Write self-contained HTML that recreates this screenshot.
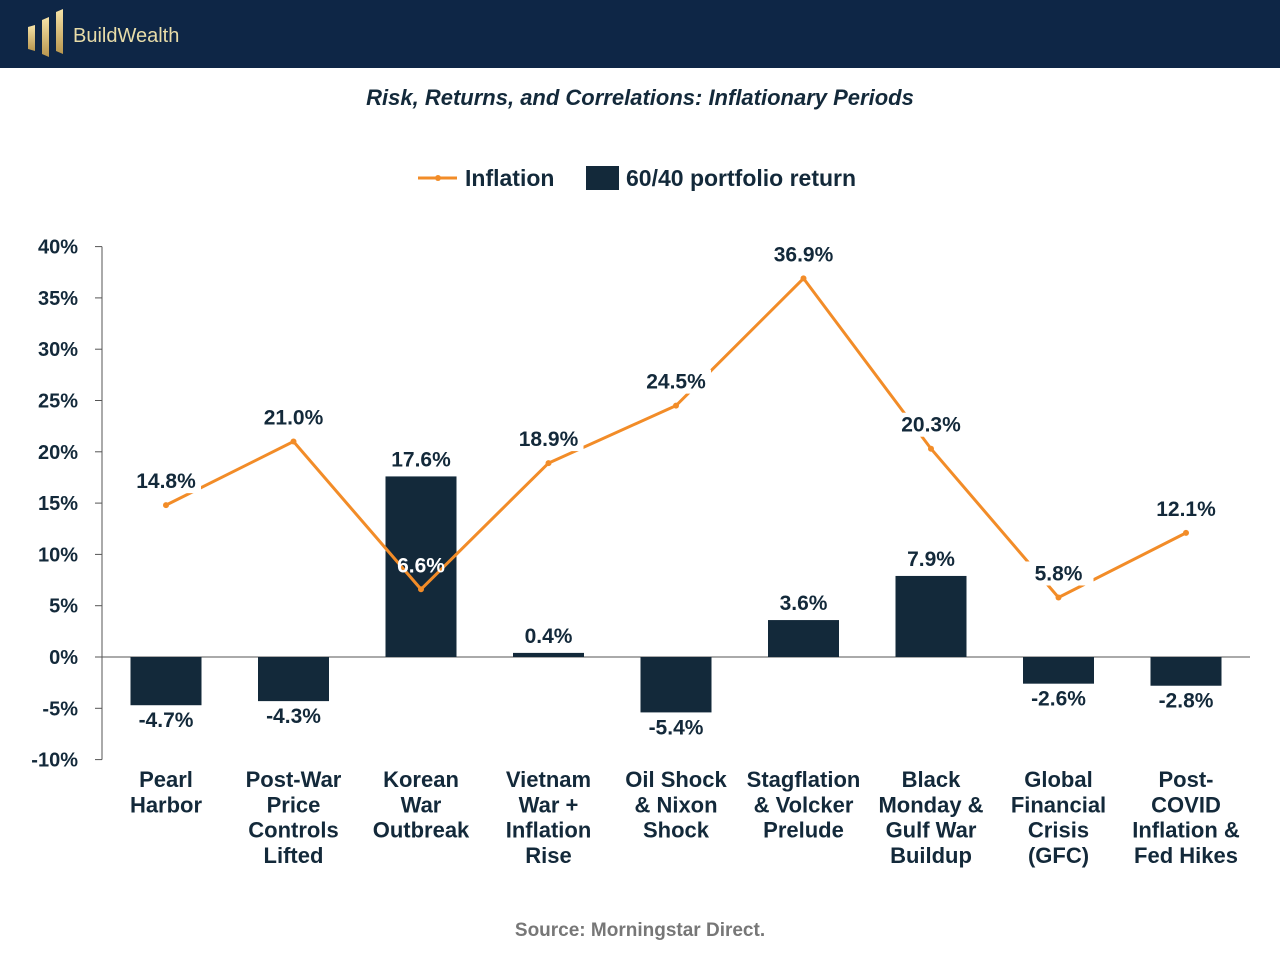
<!DOCTYPE html>
<html><head><meta charset="utf-8"><style>
body{margin:0;width:1280px;height:960px;background:#fff;font-family:"Liberation Sans",sans-serif;overflow:hidden}
#hdr{position:absolute;left:0;top:0;width:1280px;height:68px;background:#0e2646}
</style></head><body>
<div id="hdr">
<svg width="260" height="68">
<defs><linearGradient id="g" x1="0" x2="0" y1="0" y2="1"><stop offset="0" stop-color="#f6e3a8"/><stop offset="1" stop-color="#b8964e"/></linearGradient></defs>
<polygon points="28,27 35,25 35,51 28,49" fill="url(#g)"/>
<polygon points="42,20 49,17 49,57 42,54" fill="url(#g)"/>
<polygon points="56,12 63,9 63,54 56,51" fill="url(#g)"/>
<text x="73" y="42" font-size="20" fill="#e8dca8" font-family="Liberation Sans">BuildWealth</text>
</svg></div>
<svg id="chart" width="1280" height="960" style="position:absolute;left:0;top:0;pointer-events:none"></svg>
<script>
const categories=[["Pearl","Harbor"],["Post-War","Price","Controls","Lifted"],["Korean","War","Outbreak"],["Vietnam","War +","Inflation","Rise"],["Oil Shock","& Nixon","Shock"],["Stagflation","& Volcker","Prelude"],["Black","Monday &","Gulf War","Buildup"],["Global","Financial","Crisis","(GFC)"],["Post-","COVID","Inflation &","Fed Hikes"]];
const inflation=[14.8,21.0,6.6,18.9,24.5,36.9,20.3,5.8,12.1];
const portfolio=[-4.7,-4.3,17.6,0.4,-5.4,3.6,7.9,-2.6,-2.8];
const yTicks=[40,35,30,25,20,15,10,5,0,-5,-10];
const svg=document.getElementById('chart');const NS='http://www.w3.org/2000/svg';
function y(v){return 657-(v*513/50);}
function x(i){return 166+i*127.5;}
function mk(t,a,txt){const e=document.createElementNS(NS,t);for(const k in a)e.setAttribute(k,a[k]);if(txt!==undefined)e.textContent=txt;svg.appendChild(e);return e;}
let e;
e=mk('text',{x:640,y:105,'text-anchor':'middle','font-size':22,'font-weight':'bold','font-style':'italic',fill:'#13293a'},'Risk, Returns, and Correlations: Inflationary Periods');


e=mk('line',{x1:418,y1:178,x2:457,y2:178,stroke:'#f28c28','stroke-width':3});


mk('circle',{cx:438,cy:178,r:3,fill:'#f28c28'});
e=mk('text',{x:465,y:186,'font-size':23,'font-weight':'bold',fill:'#13293a'},'Inflation');


e=mk('rect',{x:586,y:166,width:33,height:24,fill:'#13293a'});


e=mk('text',{x:626,y:186,'font-size':23,'font-weight':'bold',fill:'#13293a'},'60/40 portfolio return');


mk('line',{x1:102,y1:y(40),x2:102,y2:y(-10),stroke:'#555','stroke-width':1});
yTicks.forEach(t=>{mk('line',{x1:95,y1:y(t),x2:102,y2:y(t),stroke:'#555'});
e=mk('text',{x:78,y:y(t)+7,'text-anchor':'end','font-size':20,'font-weight':'bold',fill:'#13293a'},t+'%');

});
mk('line',{x1:102,y1:y(0),x2:1250,y2:y(0),stroke:'#555'});
portfolio.forEach((v,i)=>{const top=Math.min(y(v),y(0)),h=Math.abs(y(v)-y(0));
e=mk('rect',{x:x(i)-35.5,y:top,width:71,height:Math.max(h,1),fill:'#13293a'});


const ly=v>=0?y(v)-10:y(v)+22;
e=mk('text',{x:x(i),y:ly,'text-anchor':'middle','font-size':21,'font-weight':'bold',fill:'#13293a'},v.toFixed(1)+'%');

});
e=mk('polyline',{points:inflation.map((v,i)=>x(i)+','+y(v)).join(' '),fill:'none',stroke:'#f28c28','stroke-width':3});


inflation.forEach((v,i)=>{mk('circle',{cx:x(i),cy:y(v),r:3,fill:'#f28c28'});
const inBar=portfolio[i]>v;
const lx=x(i),ly=y(v)-17;
if(!inBar)mk('rect',{x:lx-35,y:ly-19,width:70,height:24,fill:'#fff'});
e=mk('text',{x:lx,y:ly,'text-anchor':'middle','font-size':21,'font-weight':'bold',fill:inBar?'#fff':'#13293a'},v.toFixed(1)+'%');

});
categories.forEach((c,i)=>{c.forEach((l,j)=>{e=mk('text',{x:x(i),y:787+j*25.3,'text-anchor':'middle','font-size':22,'font-weight':'bold',fill:'#13293a'},l);

});});
e=mk('text',{x:640,y:936,'text-anchor':'middle','font-size':19,'font-weight':'bold',fill:'#777'},'Source: Morningstar Direct.');


</script>
</body></html>
